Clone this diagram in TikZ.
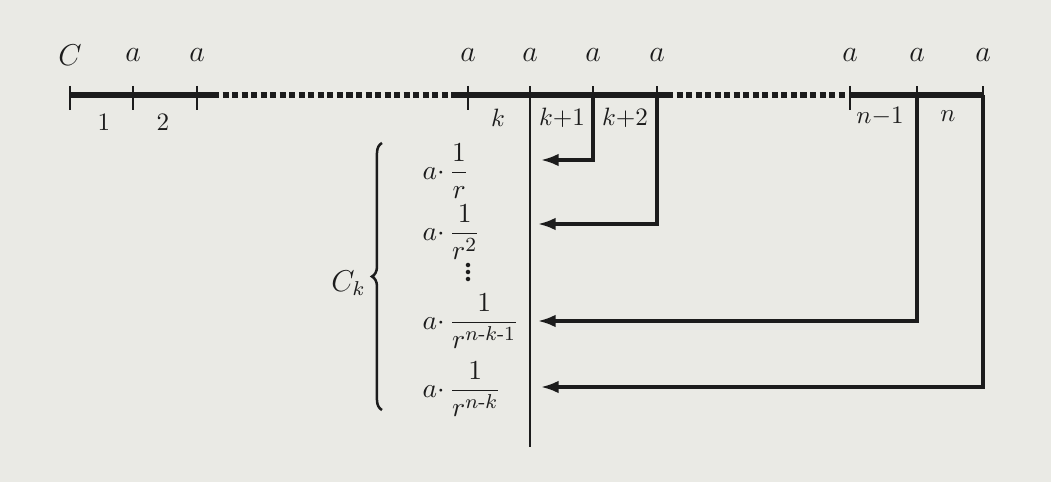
\documentclass[tikz,border=0pt]{standalone}
\usepackage{amsmath}
\usepackage{tikz}
\usetikzlibrary{arrows.meta, decorations.pathreplacing, positioning}
\definecolor{paper}{RGB}{234,234,229}
\definecolor{ink}{RGB}{28,28,28}
\newcommand{\disc}[1]{$a{\cdot}\,\dfrac{1}{#1}$}

\begin{document}
\begin{tikzpicture}[
  x=0.014cm, y=-0.014cm,
  font=\large,
  axis/.style={draw=ink, line width=2pt},
  dots/.style={draw=ink, line width=2pt, dash pattern=on 2.4pt off 1.4pt},
  tickmark/.style={draw=ink, line width=1pt},
  drop/.style={draw=ink, line width=1.2pt, -{Latex[length=7pt,width=5pt]}},
  lbl/.style={text=ink, inner sep=1pt},
  seg/.style={text=ink, inner sep=1pt, font=\normalsize},
  frac/.style={text=ink, inner sep=0pt, anchor=west,
               font=\fontsize{10.95}{13}\selectfont}
]

%% ——— Fondo y marco ———
\fill[paper] (0,0) rectangle (1051,482);
\useasboundingbox (0,0) rectangle (1051,482);

%% ——— Puntos del eje ———
\foreach \nm/\xx in {c/70, p1/133, p2/197, d1/213, d2/455, pk/468, q0/530,
                     q1/593, q2/657, d3/667, d4/847, pn/850, r1/917, r2/983}
  \coordinate (\nm) at (\xx,95);

%% ——— Eje de tiempo ———
\draw[axis] (c) -- (d1);
\draw[dots] (d1) -- (d2);
\draw[axis] (d2) -- (d3);
\draw[dots] (d3) -- (d4);
\draw[axis] (pn) -- (r2);

\foreach \nm in {c, p1, p2, pk, pn}
  \draw[tickmark] (\nm) ++(0,-9) -- ++(0,24);
\foreach \nm in {q0, q1, q2, r1, r2}
  \draw[tickmark] (\nm) -- ++(0,-9);

%% ——— Rotulos superiores ———
\path (c) ++(0,-40) node[lbl] (lc) {$C$};
\foreach \nm in {p1, p2, pk, q0, q1, q2, pn, r1, r2}
  \path (\nm) ++(0,-40) node[lbl] (l\nm) {$a$};

%% ——— Periodos ———
\node[seg] (s1)  at (104,122) {$1$};
\node[seg] (s2)  at (163,122) {$2$};
\node[seg] (sk)  at (498,118) {$k$};
\node[seg] (sk1) at (562,118) {$k{+}1$};
\node[seg] (sk2) at (625,118) {$k{+}2$};
\node[seg] (sn1) at (880,116) {$n{-}1$};
\node[seg] (sn)  at (948,116) {$n$};

%% ——— Valores descontados ———
\node[frac] (f1) at (422,171) {\disc{r}};
\node[frac] (f2) at (422,232) {\disc{r^2}};
\foreach \yy in {265,272,279}
  \fill[ink] (468,\yy) circle (0.9pt);
\node[frac] (f3) at (422,321) {\disc{r^{n\text{-}k\text{-}1}}};
\node[frac] (f4) at (422,389) {\disc{r^{n\text{-}k}}};

%% ——— Linea de referencia ———
\coordinate (q0end) at (530,447);
\draw[draw=ink, line width=0.9pt] (q0) -- (q0end);

%% ——— Flechas hacia el periodo k ———
\coordinate (e1) at (541,160);
\coordinate (e2) at (538,224);
\coordinate (e3) at (538,321);
\coordinate (e4) at (541,387);
\draw[drop] (q1) |- (e1);
\draw[drop] (q2) |- (e2);
\draw[drop] (r1) |- (e3);
\draw[drop] (r2) |- (e4);

%% ——— Llave C_k ———
\draw[draw=ink, line width=1pt, decorate,
      decoration={brace, amplitude=4pt}] (382,410) -- (382,143);
\coordinate (bmid) at (371,283);
\node[lbl, left=1pt of bmid] (ck) {$C_k$};

\end{tikzpicture}
\end{document}
